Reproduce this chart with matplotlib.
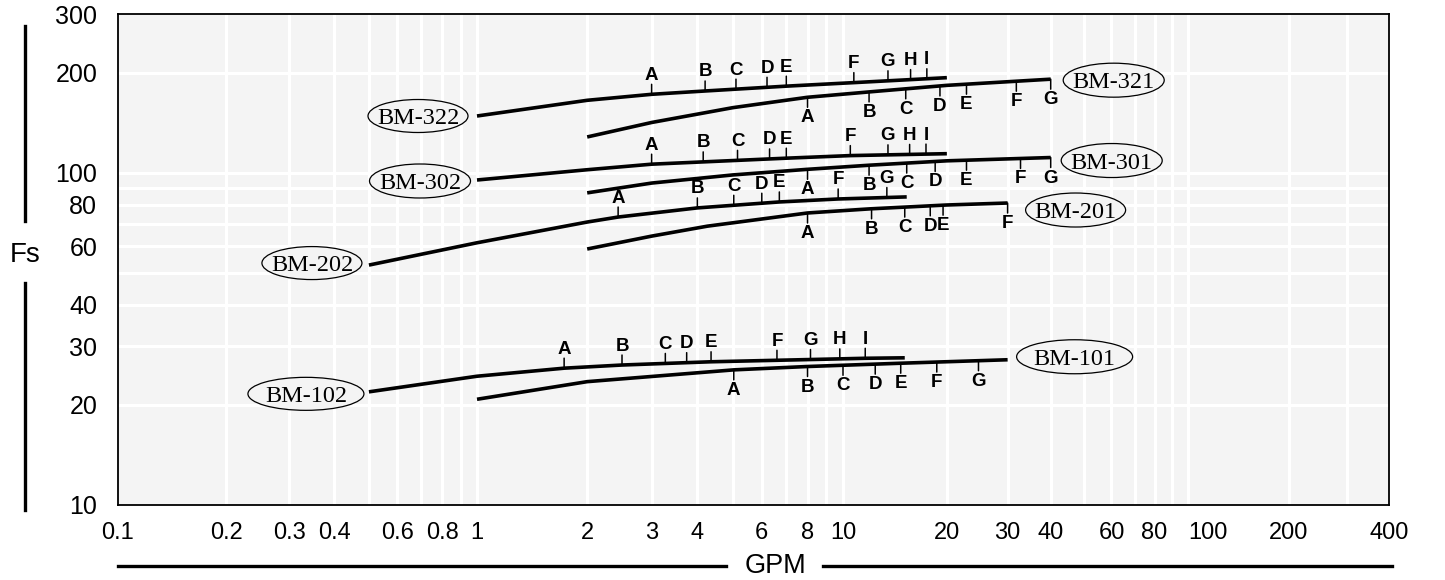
import numpy as np
import matplotlib
matplotlib.use("Agg")
import matplotlib.pyplot as plt
from matplotlib.lines import Line2D
from matplotlib.patches import Ellipse
from matplotlib.transforms import Affine2D, ScaledTranslation
from matplotlib.ticker import FixedLocator, NullLocator

# ---------------- data ----------------
x_tick_values = [0.1, 0.2, 0.3, 0.4, 0.6, 0.8, 1, 2, 3, 4, 6, 8, 10, 20, 30, 40, 60, 80, 100, 200, 400]
x_tick_labels = ["0.1", "0.2", "0.3", "0.4", "0.6", "0.8", "1", "2", "3", "4", "6", "8", "10",
                 "20", "30", "40", "60", "80", "100", "200", "400"]
y_tick_values = [10, 20, 30, 40, 60, 80, 100, 200, 300]
y_tick_labels = ["10", "20", "30", "40", "60", "80", "100", "200", "300"]
x_grid_values = [0.2, 0.3, 0.4, 0.5, 0.6, 0.7, 0.8, 0.9, 1, 2, 3, 4, 5, 6, 7, 8, 9, 10,
                 20, 30, 40, 50, 60, 70, 80, 90, 100, 200, 300]
y_grid_values = [20, 30, 40, 50, 60, 70, 80, 90, 100, 200]

bm322_gpm = [1, 2, 3, 4.2, 7, 10.75, 20]
bm322_fs = [148, 165, 172, 176, 182, 186.5, 193]
bm322_mark_gpm = [3, 4.2, 5.1, 6.2, 7.0, 10.75, 13.5, 15.7, 17.5]
bm322_mark_txt = ["A", "B", "C", "D", "E", "F", "G", "H", "I"]

bm321_gpm = [2, 3, 5, 8, 12, 20, 40]
bm321_fs = [128, 141.5, 156.8, 168.5, 175, 183, 191]
bm321_mark_gpm = [8, 11.9, 15.2, 19.1, 22.8, 31.8, 40]
bm321_mark_txt = ["A", "B", "C", "D", "E", "F", "G"]

bm302_gpm = [1, 2, 3, 7, 10.5, 20]
bm302_fs = [95, 102, 106, 110.5, 112.5, 114]
bm302_mark_gpm = [3, 4.15, 5.15, 6.3, 7.0, 10.5, 13.5, 15.6, 17.4]
bm302_mark_txt = ["A", "B", "C", "D", "E", "F", "G", "H", "I"]

bm301_gpm = [2, 3, 5, 8, 12, 20, 40]
bm301_fs = [86.9, 93, 98.4, 102.3, 105.3, 108.5, 111]
bm301_mark_gpm = [8, 11.9, 15.3, 18.5, 22.8, 32.7, 40]
bm301_mark_txt = ["A", "B", "C", "D", "E", "F", "G"]

bm202_gpm = [0.5, 1, 2, 2.43, 4, 6.7, 9.7, 15.3]
bm202_fs = [52.7, 61.5, 71, 73.5, 78.3, 81.6, 83.3, 84.5]
bm202_mark_gpm = [2.43, 4.0, 5.03, 6.0, 6.7, 9.7, 13.4]
bm202_mark_txt = ["A", "B", "C", "D", "E", "F", "G"]

bm201_gpm = [2, 3, 4.26, 8, 12, 20, 30]
bm201_fs = [58.9, 64.4, 69, 75.6, 77.8, 79.9, 81]
bm201_mark_gpm = [8, 12.1, 15.1, 17.9, 19.5, 30]
bm201_mark_txt = ["A", "B", "C", "D", "E", "F"]

bm102_gpm = [0.5, 1, 1.73, 2.49, 4.36, 11.6, 15.1]
bm102_fs = [21.9, 24.4, 25.8, 26.37, 26.97, 27.63, 27.72]
bm102_mark_gpm = [1.73, 2.49, 3.27, 3.74, 4.36, 6.6, 8.15, 9.8, 11.6]
bm102_mark_txt = ["A", "B", "C", "D", "E", "F", "G", "H", "I"]

bm101_gpm = [1, 2, 5.03, 8, 14.7, 30]
bm101_fs = [20.8, 23.5, 25.5, 26.1, 26.7, 27.35]
bm101_mark_gpm = [5.03, 8, 10, 12.4, 14.7, 18.7, 24.7]
bm101_mark_txt = ["A", "B", "C", "D", "E", "F", "G"]

# (name, gpm, fs, marks, letters, mark direction, label side, label offset px, ellipse size px)
series = [
    ("BM-322", bm322_gpm, bm322_fs, bm322_mark_gpm, bm322_mark_txt, 1, "start", (-59, 0), (100, 33)),
    ("BM-321", bm321_gpm, bm321_fs, bm321_mark_gpm, bm321_mark_txt, -1, "end", (63, -1), (101, 34)),
    ("BM-302", bm302_gpm, bm302_fs, bm302_mark_gpm, bm302_mark_txt, 1, "start", (-57, -1), (101, 34)),
    ("BM-301", bm301_gpm, bm301_fs, bm301_mark_gpm, bm301_mark_txt, -1, "end", (61, -3), (101, 34)),
    ("BM-202", bm202_gpm, bm202_fs, bm202_mark_gpm, bm202_mark_txt, 1, "start", (-57, 2), (100, 33)),
    ("BM-201", bm201_gpm, bm201_fs, bm201_mark_gpm, bm201_mark_txt, -1, "end", (68, -7), (100, 34)),
    ("BM-102", bm102_gpm, bm102_fs, bm102_mark_gpm, bm102_mark_txt, 1, "start", (-63, -2), (116, 33)),
    ("BM-101", bm101_gpm, bm101_fs, bm101_mark_gpm, bm101_mark_txt, -1, "end", (67, 3), (116, 34)),
]

# ---------------- figure ----------------
W, H = 1445, 580
fig = plt.figure(figsize=(W / 100, H / 100), dpi=100)
fig.patch.set_facecolor("white")
L, R, T, B = 118, 1389, 14, 505
ax = fig.add_axes([L / W, 1 - B / H, (R - L) / W, (B - T) / H])
bg = "#f4f4f4"
ax.set_facecolor(bg)

# the printed GPM axis is logarithmic, with slightly unequal decade lengths
decade_log = np.array([-1.0, 0.0, 1.0, 2.0, np.log10(400)])
decade_len = np.array([0.0, 359.0, 725.0, 1070.0, 1271.0])


def gpm_fwd(v):
    v = np.asarray(v, dtype=float)
    lv = np.log10(np.clip(v, 1e-6, None))
    return np.interp(lv, decade_log, decade_len)


def gpm_inv(u):
    u = np.asarray(u, dtype=float)
    return 10 ** np.interp(u, decade_len, decade_log)


ax.set_xscale("function", functions=(gpm_fwd, gpm_inv))
ax.set_yscale("log")
ax.set_xlim(0.1, 400)
ax.set_ylim(10, 300)
ax.set_autoscale_on(False)

for gx in x_grid_values:
    ax.axvline(gx, color="white", lw=2.2, zorder=0.5)
for gy in y_grid_values:
    ax.axhline(gy, color="white", lw=2.2, zorder=0.5)

sans = ["Liberation Sans", "DejaVu Sans"]
serif = ["Liberation Serif", "DejaVu Serif"]
ax.xaxis.set_major_locator(FixedLocator(x_tick_values))
ax.xaxis.set_minor_locator(NullLocator())
ax.set_xticklabels(x_tick_labels, fontsize=17, family=sans)
ax.yaxis.set_major_locator(FixedLocator(y_tick_values))
ax.yaxis.set_minor_locator(NullLocator())
ax.set_yticklabels(y_tick_labels, fontsize=18, family=sans)
ax.tick_params(axis="x", length=0, pad=12)
ax.tick_params(axis="y", length=0, pad=15)
# "100" is printed just to the right of its grid line so it clears "80"
ax.xaxis.get_major_ticks()[x_tick_labels.index("100")].label1.set_horizontalalignment("left")
for sp in ax.spines.values():
    sp.set_linewidth(1.3)
    sp.set_color("black")

px = 72 / 100  # points per pixel

for name, gx, gy, mg, mt, d, side, off, esize in series:
    ax.plot(gx, gy, color="black", lw=2.6, solid_capstyle="butt",
            solid_joinstyle="round", zorder=3)
    lx, ly = np.log10(gx), np.log10(gy)
    for m, t in zip(mg, mt):
        my = 10 ** np.interp(np.log10(m), lx, ly)
        ax.annotate("", xy=(m, my), xytext=(0, d * 10 * px), textcoords="offset points",
                    arrowprops=dict(arrowstyle="-", lw=1.1, color="black",
                                    shrinkA=0, shrinkB=0), zorder=3)
        ax.annotate(t, xy=(m, my), xytext=(0, d * (19 if d > 0 else 20.5) * px),
                    textcoords="offset points", ha="center", va="center",
                    fontsize=13.5, fontweight="bold", family=sans, zorder=4)
    if side == "start":
        ex, ey = gx[0], gy[0]
    else:
        ex, ey = gx[-1], gy[-1]
    ell = Ellipse((0, 0), esize[0], esize[1],
                  transform=Affine2D().translate(off[0], off[1]) + ScaledTranslation(ex, ey, ax.transData),
                  facecolor=bg, edgecolor="black", lw=0.9, zorder=5)
    ax.add_artist(ell)
    ax.annotate(name, xy=(ex, ey), xytext=(off[0] * px, off[1] * px),
                textcoords="offset points", ha="center", va="center_baseline",
                fontsize=17.5, family=serif, zorder=6)

# ---------------- outer axis titles ----------------
fig.text(25 / W, 1 - 255 / H, "Fs", ha="center", va="center", fontsize=20, family=sans)
fig.add_artist(Line2D([25 / W, 25 / W], [1 - 26 / H, 1 - 221 / H], color="black", lw=2.4))
fig.add_artist(Line2D([25 / W, 25 / W], [1 - 283 / H, 1 - 510 / H], color="black", lw=2.4))

fig.text(775 / W, 1 - 566 / H, "GPM", ha="center", va="center", fontsize=19.5, family=sans)
fig.add_artist(Line2D([118 / W, 726 / W], [1 - 566 / H, 1 - 566 / H], color="black", lw=2.4))
fig.add_artist(Line2D([823 / W, 1392 / W], [1 - 566 / H, 1 - 566 / H], color="black", lw=2.4))

fig.savefig("out.png", dpi=100)
